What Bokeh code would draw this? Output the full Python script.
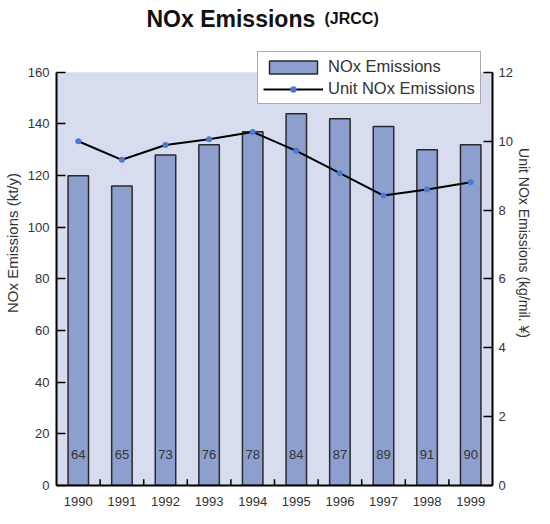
from bokeh.plotting import figure
from bokeh.models import (Range1d, LinearAxis, SingleIntervalTicker, Legend, LegendItem,
                          Label, ColumnDataSource, FactorRange, BoxAnnotation)
from bokeh.transform import dodge
from bokeh.core.properties import value
from bokeh.embed import file_html
from bokeh.resources import INLINE

years = ["1990", "1991", "1992", "1993", "1994", "1995", "1996", "1997", "1998", "1999"]
nox_emissions = [120, 116, 128, 132, 137, 144, 142, 139, 130, 132]
unit_nox = [10.0, 9.46, 9.89, 10.06, 10.27, 9.72, 9.07, 8.42, 8.60, 8.81]
bar_labels = ["64", "65", "73", "76", "78", "84", "87", "89", "91", "90"]
left_max, right_max = 160, 12

FONT = "Liberation Sans"
BG = "#d8dcef"
BAR = "#8c9fcf"
TXT = "#333333"

src = ColumnDataSource(dict(year=years, nox=nox_emissions, unit=unit_nox, lab=bar_labels))
tick_src = ColumnDataSource(dict(year=years[:-1]))

W, H = 534, 508
BOTTOM = 22
TOP_GAP = 72                     # pixels from top of canvas to value 160
frame_h = H - BOTTOM
scale = frame_h / (frame_h - TOP_GAP)

p = figure(width=W, height=H, x_range=FactorRange(*years),
           y_range=Range1d(0, left_max * scale),
           output_backend="svg", toolbar_location=None,
           min_border_left=54, min_border_right=30, min_border_top=0, min_border_bottom=BOTTOM)
p.extra_y_ranges = {"unit": Range1d(0, right_max * scale)}
p.background_fill_color = "white"
p.border_fill_color = "white"
p.outline_line_color = None
p.xgrid.visible = False
p.ygrid.visible = False

p.add_layout(BoxAnnotation(bottom=0, top=left_max, fill_color=BG, fill_alpha=1,
                           line_color=None, level="underlay"))

# axes
la = p.yaxis[0]
la.ticker = SingleIntervalTicker(interval=20)
la.bounds = (0, left_max)
la.axis_label = "NOx Emissions (kt/y)"
ra = LinearAxis(y_range_name="unit", ticker=SingleIntervalTicker(interval=2),
                bounds=(0, right_max),
                axis_label="Unit NOx Emissions (kg/mil. \u00a5)")
p.add_layout(ra, "right")

for ax in [la, ra]:
    ax.axis_line_width = 2
    ax.axis_line_color = "black"
    ax.major_tick_in = 9
    ax.major_tick_out = 0
    ax.major_tick_line_width = 1.5
    ax.minor_tick_line_color = None
    ax.major_label_text_font = FONT
    ax.major_label_text_font_size = "13px"
    ax.major_label_text_color = TXT
    ax.major_label_standoff = 3
    ax.axis_label_text_font = FONT
    ax.axis_label_text_font_size = "15px"
    ax.axis_label_text_font_style = "normal"
    ax.axis_label_text_color = TXT
    ax.axis_label_standoff = 4
ra.major_label_standoff = 2
ra.axis_label_standoff = 0
ra.axis_label_text_font_size = "14px"

xa = p.xaxis[0]
xa.axis_line_width = 2
xa.axis_line_color = "black"
xa.major_tick_line_color = None
xa.major_label_text_font = FONT
xa.major_label_text_font_size = "13px"
xa.major_label_text_color = TXT
xa.major_label_standoff = 5

# bars
bars = p.vbar(x="year", top="nox", width=0.47, source=src, fill_color=BAR,
              line_color="#2a2a2a", line_width=1.5)
# small ticks between categories
p.segment(x0=dodge("year", 0.5, range=p.x_range), y0=0,
          x1=dodge("year", 0.5, range=p.x_range), y1=2.4,
          source=tick_src, line_color="black", line_width=1.5)
# labels in bars
p.text(x="year", y=12, text="lab", source=src, text_align="center", text_baseline="middle",
       text_font=value(FONT), text_font_size="13px", text_color=TXT)

# line
ln = p.line(x="year", y="unit", source=src, y_range_name="unit", line_color="black", line_width=2)
mk = p.scatter(x="year", y="unit", source=src, y_range_name="unit", size=6,
               fill_color="#4a7bd0", line_color=None)

legend = Legend(items=[LegendItem(label="NOx Emissions", renderers=[bars]),
                       LegendItem(label="Unit NOx Emissions", renderers=[ln, mk])],
                location=(201, frame_h - 105))
legend.background_fill_color = "white"
legend.background_fill_alpha = 1
legend.border_line_color = "#555555"
legend.border_line_width = 1.5
legend.label_text_font = FONT
legend.label_text_font_size = "16.5px"
legend.label_text_color = TXT
legend.glyph_width = 60
legend.glyph_height = 16
legend.spacing = 3
legend.padding = 5
legend.margin = 0
legend.label_standoff = 5
legend.label_height = 17
p.add_layout(legend, "center")

# title
t1 = Label(x=90, y=frame_h - 19, x_units="screen", y_units="screen",
           text="NOx Emissions", text_font=FONT, text_font_size="23px",
           text_font_style="bold", text_color="#111111", text_baseline="alphabetic")
t2 = Label(x=268, y=frame_h - 19, x_units="screen", y_units="screen",
           text="(JRCC)", text_font=FONT, text_font_size="16px",
           text_font_style="bold", text_color="#111111", text_baseline="alphabetic")
p.add_layout(t1)
p.add_layout(t2)

open("out.html", "w").write(file_html(p, INLINE))
